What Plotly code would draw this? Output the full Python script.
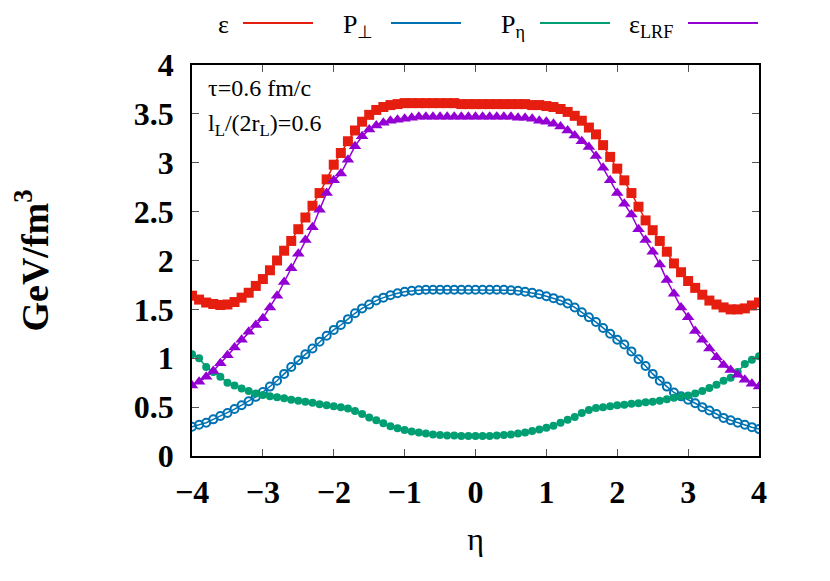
import plotly.graph_objects as go

# eta grid, step 0.1 from -4 to 4
eta = [round(-4 + 0.1 * i, 1) for i in range(81)]

eps = [1.64, 1.60, 1.57, 1.555, 1.545, 1.55, 1.575, 1.62, 1.67, 1.74,
       1.81, 1.90, 2.00, 2.10, 2.20, 2.32, 2.44, 2.56, 2.69, 2.83,
       2.98, 3.10, 3.22, 3.33, 3.42, 3.49, 3.54, 3.57, 3.59, 3.60,
       3.61, 3.61, 3.61, 3.61, 3.61, 3.61, 3.61, 3.61, 3.60, 3.60,
       3.60, 3.60, 3.60, 3.60, 3.60, 3.60, 3.60, 3.60, 3.59, 3.59,
       3.58, 3.57, 3.55, 3.52, 3.48, 3.43, 3.36, 3.29, 3.18, 3.06,
       2.94, 2.82, 2.69, 2.55, 2.41, 2.31, 2.20, 2.09, 1.97, 1.88,
       1.79, 1.72, 1.65, 1.59, 1.55, 1.52, 1.50, 1.50, 1.51, 1.54,
       1.57]

p_perp = [0.30, 0.32, 0.34, 0.375, 0.41, 0.44, 0.48, 0.52, 0.56, 0.605,
          0.655, 0.71, 0.77, 0.84, 0.91, 0.98, 1.04, 1.10, 1.17, 1.23,
          1.29, 1.34, 1.40, 1.46, 1.51, 1.55, 1.59, 1.62, 1.645, 1.665,
          1.68, 1.69, 1.695, 1.70, 1.70, 1.70, 1.70, 1.70, 1.70, 1.70,
          1.70, 1.70, 1.70, 1.70, 1.70, 1.695, 1.69, 1.68, 1.67, 1.655,
          1.635, 1.615, 1.59, 1.56, 1.52, 1.47, 1.42, 1.37, 1.31, 1.25,
          1.19, 1.14, 1.07, 0.99, 0.92, 0.84, 0.77, 0.71, 0.65, 0.61,
          0.575, 0.54, 0.50, 0.465, 0.43, 0.39, 0.365, 0.34, 0.32, 0.295,
          0.275]

p_eta = [1.04, 1.00, 0.91, 0.86, 0.81, 0.75, 0.72, 0.69, 0.665, 0.64,
         0.625, 0.61, 0.60, 0.59, 0.575, 0.565, 0.555, 0.545, 0.53, 0.52,
         0.51, 0.50, 0.485, 0.46, 0.43, 0.395, 0.365, 0.335, 0.305, 0.285,
         0.265, 0.25, 0.24, 0.23, 0.22, 0.215, 0.21, 0.21, 0.205, 0.205,
         0.205, 0.205, 0.205, 0.21, 0.215, 0.22, 0.23, 0.24, 0.255, 0.27,
         0.29, 0.31, 0.34, 0.37, 0.40, 0.44, 0.47, 0.49, 0.50, 0.51,
         0.52, 0.525, 0.535, 0.54, 0.55, 0.555, 0.565, 0.58, 0.595, 0.61,
         0.62, 0.64, 0.665, 0.695, 0.73, 0.77, 0.80, 0.86, 0.94, 0.985,
         1.02]

eps_lrf = [0.72, 0.76, 0.81, 0.87, 0.95, 1.03, 1.11, 1.19, 1.27, 1.34,
           1.41, 1.52, 1.64, 1.78, 1.92, 2.07, 2.21, 2.34, 2.52, 2.69,
           2.82, 2.89, 3.03, 3.17, 3.27, 3.34, 3.38, 3.41, 3.43, 3.44,
           3.45, 3.46, 3.47, 3.47, 3.47, 3.47, 3.47, 3.47, 3.47, 3.47,
           3.47, 3.47, 3.47, 3.47, 3.47, 3.47, 3.46, 3.46, 3.45, 3.43,
           3.42, 3.40, 3.37, 3.33, 3.28, 3.22, 3.16, 3.07, 2.95, 2.82,
           2.69, 2.58, 2.47, 2.32, 2.21, 2.09, 1.96, 1.80, 1.66, 1.52,
           1.42, 1.28, 1.19, 1.10, 1.01, 0.93, 0.88, 0.83, 0.78, 0.74,
           0.71]

RED = '#e51e10'
BLUE = '#0072b2'
GREEN = '#009e73'
PURPLE = '#9400d3'
FONT = 'Liberation Serif'

fig = go.Figure()
fig.add_trace(go.Scatter(x=eta, y=eps, mode='lines+markers', name='ε',
                         line=dict(color=RED, width=1.5),
                         marker=dict(symbol='square', size=10, color=RED)))
fig.add_trace(go.Scatter(x=eta, y=p_perp, mode='lines+markers', name='P⊥',
                         line=dict(color=BLUE, width=1.5),
                         marker=dict(symbol='circle-open', size=8, color=BLUE,
                                     line=dict(width=2, color=BLUE))))
fig.add_trace(go.Scatter(x=eta, y=p_eta, mode='lines+markers', name='Pη',
                         line=dict(color=GREEN, width=1.5),
                         marker=dict(symbol='circle', size=8, color=GREEN)))
fig.add_trace(go.Scatter(x=eta, y=eps_lrf, mode='lines+markers', name='εLRF',
                         line=dict(color=PURPLE, width=1.5),
                         marker=dict(symbol='triangle-up', size=11, color=PURPLE)))

# gnuplot-style key: text then line sample, across the top (page pixel positions)
key_text = ['ε', 'P<sub>⊥</sub>', 'P<sub>η</sub>', 'ε<sub>LRF</sub>']
key_colors = [RED, BLUE, GREEN, PURPLE]
key_right = [230, 374, 526, 674]
key_line = [(243, 313), (391, 461), (540, 610), (688, 758)]
L, R, T, B = 192, 759, 65, 456


def px(x):
    return (x - L) / (R - L)


def py(y):
    return (B - y) / (B - T)


annotations = []
shapes = []
for txt, c, xr, (x0, x1) in zip(key_text, key_colors, key_right, key_line):
    annotations.append(dict(text=txt, xref='paper', yref='paper', x=px(xr), y=py(8.5),
                            xanchor='right', yanchor='top', borderpad=0, showarrow=False,
                            font=dict(family=FONT, size=26, color='black')))
    shapes.append(dict(type='line', xref='paper', yref='paper', x0=px(x0), x1=px(x1),
                       y0=py(23), y1=py(23), line=dict(color=c, width=2)))

annotations.append(dict(text='τ=0.6 fm/c', xref='paper', yref='paper',
                        x=px(206), y=py(88), xanchor='left', yanchor='middle',
                        showarrow=False, font=dict(family=FONT, size=24, color='black')))
annotations.append(dict(text='l<sub>L</sub>/(2r<sub>L</sub>)=0.6', xref='paper', yref='paper',
                        x=px(206), y=py(125), xanchor='left', yanchor='middle',
                        showarrow=False, font=dict(family=FONT, size=24, color='black')))

# page is offset by 8px body margin, so margins are trimmed by 8
fig.update_layout(
    width=830, height=581,
    margin=dict(l=L - 8, r=830 - R + 8, t=T - 8, b=581 - B + 8),
    paper_bgcolor='white', plot_bgcolor='white',
    showlegend=False,
    font=dict(family=FONT, color='black'),
    annotations=annotations, shapes=shapes,
)
fig.update_xaxes(range=[-4, 4], tickvals=[-4, -3, -2, -1, 0, 1, 2, 3, 4],
                 ticks='inside', ticklen=7, tickcolor='#555', mirror='allticks',
                 showline=True, linecolor='black', linewidth=1.5, showgrid=False, zeroline=False,
                 tickfont=dict(family=FONT, size=32, color='black', weight='bold'),
                 ticklabelstandoff=7,
                 title=dict(text='η', font=dict(family=FONT, size=32, color='black'), standoff=18))
fig.update_yaxes(range=[0, 4], tickvals=[0, 0.5, 1, 1.5, 2, 2.5, 3, 3.5, 4],
                 ticktext=['0', '0.5', '1', '1.5', '2', '2.5', '3', '3.5', '4'],
                 ticks='inside', ticklen=7, tickcolor='#555', mirror='allticks',
                 showline=True, linecolor='black', linewidth=1.5, showgrid=False, zeroline=False,
                 tickfont=dict(family=FONT, size=32, color='black', weight='bold'),
                 ticklabelstandoff=10,
                 title=dict(text='<b>GeV/fm<sup>3</sup></b>', font=dict(family=FONT, size=38, color='black'),
                            standoff=82))

fig.write_html("out.html")
